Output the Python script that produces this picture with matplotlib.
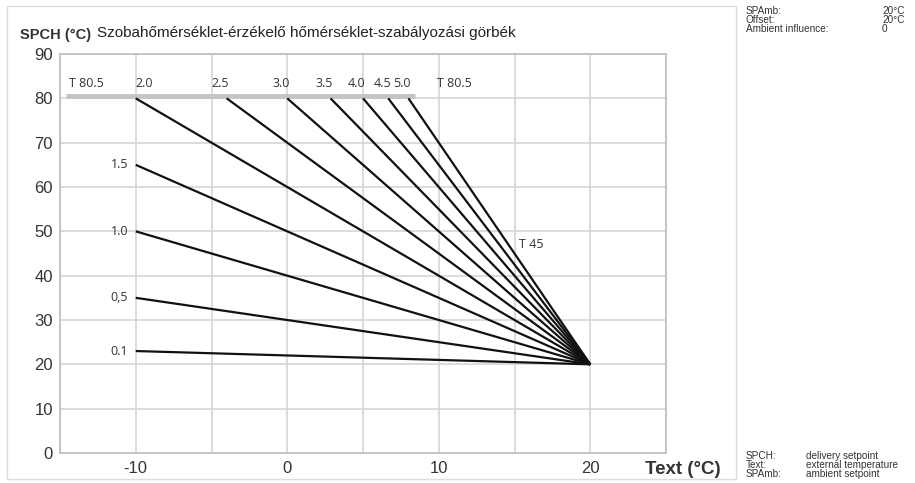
import numpy as np
import matplotlib
matplotlib.use("Agg")
import matplotlib.pyplot as plt
from matplotlib.patches import Rectangle

# ---- data ----
slopes = [0.1, 0.5, 1.0, 1.5, 2.0, 2.5, 3.0, 3.5, 4.0, 4.5, 5.0]
slope_labels = ['0.1', '0,5', '1.0', '1.5', '2.0', '2.5', '3.0', '3.5', '4.0', '4.5', '5.0']
text_min = -10          # lowest external temperature shown
spamb = 20              # ambient setpoint (all curves meet here)
t_max = 80              # max delivery temperature
t_band = 80.5
x_ticks = [-10, 0, 10, 20]
y_ticks = [0, 10, 20, 30, 40, 50, 60, 70, 80, 90]
info_top = [("SPAmb:", "20°C"), ("Offset:", "20°C"), ("Ambient influence:", "0")]
info_bottom = [("SPCH:", "delivery setpoint"), ("Text:", "external temperature"), ("SPAmb:", "ambient setpoint")]

W, H = 915, 483
fig = plt.figure(figsize=(W / 100, H / 100), dpi=100)
fig.patch.set_facecolor("white")

# outer light border around chart area
fig.add_artist(Rectangle((7 / W, 1 - 479 / H), (736 - 7) / W, (479 - 6) / H,
                         transform=fig.transFigure, fill=False, ec="#dcdcdc", lw=1))

ax = fig.add_axes([60 / W, 1 - 453 / H, 606 / W, 399 / H])
ax.set_xlim(-15, 25)
ax.set_ylim(0, 90)

grid_c = "#d6d6d6"
for xv in np.arange(-15, 26, 5):
    ax.axvline(xv, color=grid_c, lw=1.2, zorder=0)
for yv in y_ticks:
    ax.axhline(yv, color=grid_c, lw=1.2, zorder=0)
for s in ax.spines.values():
    s.set_color("#bdbdbd")
    s.set_linewidth(1.2)

ax.set_xticks(x_ticks)
ax.set_xticklabels([str(v) for v in x_ticks])
ax.set_yticks(y_ticks)
ax.set_yticklabels([str(v) for v in y_ticks])
ax.tick_params(length=0, labelsize=12, colors="#333333", pad=6)
ax.tick_params(axis="y", pad=5)
for lab in ax.get_xticklabels() + ax.get_yticklabels():
    lab.set_family("Liberation Sans")

# gray T80.5 band
ax.hlines(t_band, -14.6, 8.4, color="#c4c4c4", lw=3.5, zorder=1)

lab_kw = dict(fontsize=9, color="#333333", family="Open Sans")
for s, lab in zip(slopes, slope_labels):
    x0 = max(text_min, spamb - (t_max - spamb) / s)
    xs = np.array([x0, spamb])
    ys = spamb + s * (spamb - xs)
    ax.plot(xs, ys, color="#111111", lw=1.6, zorder=3, solid_capstyle="butt")
    if ys[0] >= t_max - 1e-6:
        if x0 <= text_min:
            ax.text(x0, 83.3, lab, ha="left", va="center", **lab_kw)
        else:
            ax.text(x0 - 0.4, 83.3, lab, ha="center", va="center", **lab_kw)
    else:
        ax.text(x0 - 0.5, ys[0], lab, ha="right", va="center", **lab_kw)

ax.text(-14.4, 83.3, "T 80.5", ha="left", va="center", **lab_kw)
ax.text(9.9, 83.3, "T 80.5", ha="left", va="center", **lab_kw)
ax.text(15.3, 47, "T 45", ha="left", va="center", **lab_kw)

# titles / axis labels
fig.text(20 / W, 1 - 35 / H, "SPCH (°C)", fontsize=10.5, fontweight="bold",
         family="Liberation Sans", color="#333333", va="center", ha="left")
fig.text(97 / W, 1 - 33 / H, "Szobahőmérséklet-érzékelő hőmérséklet-szabályozási görbék",
         fontsize=11, family="Liberation Sans", color="#222222", va="center", ha="left")
fig.text(645 / W, 1 - 470 / H, "Text (°C)", fontsize=13.5, fontweight="bold",
         family=["Liberation Sans Narrow", "Liberation Sans"], color="#333333", va="center", ha="left")

# right-side info text
info_kw = dict(fontsize=7.2, family=["Liberation Sans Narrow", "Liberation Sans"], color="#333333", va="center")
for i, (k, v) in enumerate(info_top):
    y = 1 - (11 + 9 * i) / H
    fig.text(746 / W, y, k, ha="left", **info_kw)
    fig.text(882 / W, y, v, ha="left", **info_kw)
for i, (k, v) in enumerate(info_bottom):
    y = 1 - (456 + 9 * i) / H
    fig.text(746 / W, y, k, ha="left", **info_kw)
    fig.text(806 / W, y, v, ha="left", **info_kw)

fig.savefig("out.png", dpi=100)
